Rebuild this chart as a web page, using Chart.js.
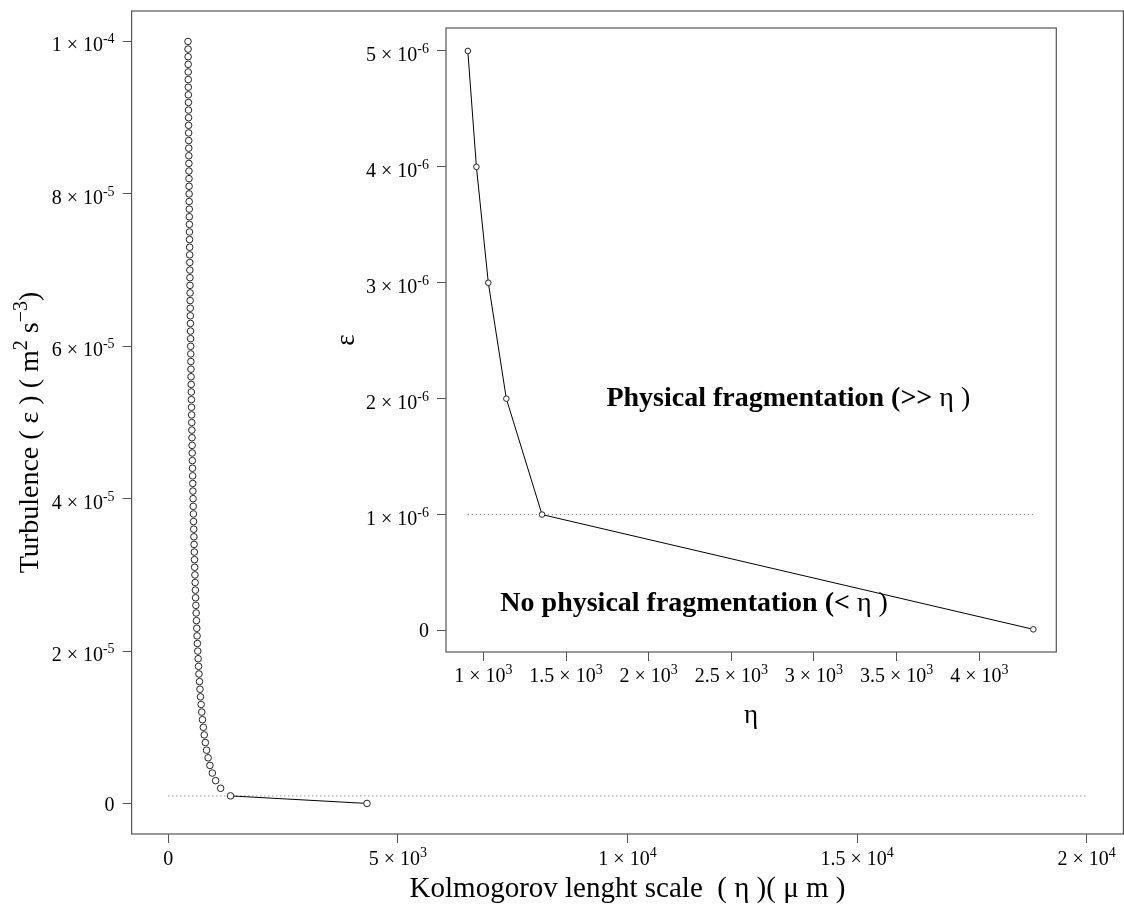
<!DOCTYPE html>
<html>
<head>
<meta charset="utf-8">
<script src="https://cdn.jsdelivr.net/npm/chart.js@4.4.1/dist/chart.umd.min.js"></script>
<style>
  body { margin: 0; background: #fff; }
  #wrap { position: relative; width: 1124px; height: 918px; }
  #main { position: absolute; left: 0; top: 0; }
  #inset { position: absolute; left: 330px; top: 0; }
</style>
</head>
<body>
<div id="wrap">
  <canvas id="main" width="1124" height="918"></canvas>
  <canvas id="inset" width="760" height="745"></canvas>
</div>
<script>
/* ---------- data ---------- */
// Kolmogorov length (um), first point is the ~0 dissipation one
const etaValues = [4327,
  1355, 1139, 1030, 958, 906, 866, 833, 806, 782, 762,
  744, 728, 714, 700, 689, 678, 667, 658, 649, 641,
  633, 626, 619, 612, 606, 600, 594, 589, 584, 579,
  574, 570, 565, 561, 557, 553, 549, 546, 542, 539,
  535, 532, 529, 526, 523, 520, 518, 515, 512, 510,
  507, 505, 502, 500, 498, 495, 493, 491, 489, 487,
  485, 483, 481, 479, 477, 475, 474, 472, 470, 468,
  467, 465, 464, 462, 460, 459, 457, 456, 454, 453,
  452, 450, 449, 448, 446, 445, 444, 442, 441, 440,
  439, 438, 436, 435, 434, 433, 432, 431, 430, 428];
// turbulence epsilon (m2 s-3)
const epsValues = [1e-8,
  1e-6, 2e-6, 3e-6, 4e-6, 5e-6, 6e-6, 7e-6, 8e-6, 9e-6, 10e-6,
  11e-6, 12e-6, 13e-6, 14e-6, 15e-6, 16e-6, 17e-6, 18e-6, 19e-6, 20e-6,
  21e-6, 22e-6, 23e-6, 24e-6, 25e-6, 26e-6, 27e-6, 28e-6, 29e-6, 30e-6,
  31e-6, 32e-6, 33e-6, 34e-6, 35e-6, 36e-6, 37e-6, 38e-6, 39e-6, 40e-6,
  41e-6, 42e-6, 43e-6, 44e-6, 45e-6, 46e-6, 47e-6, 48e-6, 49e-6, 50e-6,
  51e-6, 52e-6, 53e-6, 54e-6, 55e-6, 56e-6, 57e-6, 58e-6, 59e-6, 60e-6,
  61e-6, 62e-6, 63e-6, 64e-6, 65e-6, 66e-6, 67e-6, 68e-6, 69e-6, 70e-6,
  71e-6, 72e-6, 73e-6, 74e-6, 75e-6, 76e-6, 77e-6, 78e-6, 79e-6, 80e-6,
  81e-6, 82e-6, 83e-6, 84e-6, 85e-6, 86e-6, 87e-6, 88e-6, 89e-6, 90e-6,
  91e-6, 92e-6, 93e-6, 94e-6, 95e-6, 96e-6, 97e-6, 98e-6, 99e-6, 1e-4];
// threshold line at 1e-6
const mainCutEta = [0, 20000];
const insetCutEta = [906, 4327];
const cutEps = [1e-6, 1e-6];
// inset shows the first six points
const insetCount = 6;

// ticks ("^" marks the exponent)
const mainXTicks = [0, 5000, 10000, 15000, 20000];
const mainXLabels = ['0', '5 × 10^3', '1 × 10^4', '1.5 × 10^4', '2 × 10^4'];
const mainYTicks = [0, 2e-5, 4e-5, 6e-5, 8e-5, 1e-4];
const mainYLabels = ['0', '2 × 10^-5', '4 × 10^-5', '6 × 10^-5', '8 × 10^-5', '1 × 10^-4'];
const insetXTicks = [1000, 1500, 2000, 2500, 3000, 3500, 4000];
const insetXLabels = ['1 × 10^3', '1.5 × 10^3', '2 × 10^3', '2.5 × 10^3', '3 × 10^3', '3.5 × 10^3', '4 × 10^3'];
const insetYTicks = [0, 1e-6, 2e-6, 3e-6, 4e-6, 5e-6];
const insetYLabels = ['0', '1 × 10^-6', '2 × 10^-6', '3 × 10^-6', '4 × 10^-6', '5 × 10^-6'];

/* ---------- helpers ---------- */
const SERIF = "'Liberation Serif', 'Times New Roman', serif";
const AXIS_GREY = '#555';

function pts(xs, ys) {
    return xs.map((x, i) => ({ x: x, y: ys[i] }));
}

// R-like axis: fixed ticks, outside tick marks, labels drawn by sciPlugin
function makeAxis(o) {
    return {
        type: 'linear',
        position: o.pos,
        min: o.min,
        max: o.max,
        afterBuildTicks: s => { s.ticks = o.ticks.map(v => ({ value: v })); },
        afterFit: s => {
            if (o.pos === 'bottom') s.height = o.size; else s.width = o.size;
            s.paddingTop = s.paddingBottom = s.paddingLeft = s.paddingRight = 0;
        },
        ticks: { display: false },
        grid: { drawOnChartArea: false, drawTicks: true, tickLength: 9, tickColor: AXIS_GREY, tickWidth: 1 },
        border: { display: false },
        title: {
            display: !!o.title,
            text: o.title || '',
            font: { family: SERIF, size: o.titleSize || 27 },
            color: '#000',
            padding: o.titlePad
        }
    };
}

// text pieces [text, size, raise] laid out left to right
function drawRuns(ctx, runs, x, y, align) {
    let total = 0;
    runs.forEach(r => {
        ctx.font = r[1] + 'px ' + SERIF;
        r.w = ctx.measureText(r[0]).width;
        total += r.w;
    });
    let cx = align === 'right' ? x - total : x - total / 2;
    ctx.textAlign = 'left';
    ctx.textBaseline = 'alphabetic';
    runs.forEach(r => {
        ctx.font = r[1] + 'px ' + SERIF;
        ctx.fillText(r[0], cx, y - r[2]);
        cx += r.w;
    });
}

// "2 × 10^-5" -> base + raised exponent
function drawSci(ctx, text, x, y, align) {
    const parts = text.split('^');
    const runs = [[parts[0], 20, 0]];
    if (parts[1]) runs.push([parts[1], 14, 8]);
    drawRuns(ctx, runs, x, y, align);
}

function sciPlugin(xTicks, xLabels, yTicks, yLabels, xDrop) {
    return {
        id: 'sci',
        afterDraw(chart) {
            const ctx = chart.ctx, a = chart.chartArea;
            const sx = chart.scales.x, sy = chart.scales.y;
            ctx.save();
            ctx.fillStyle = '#000';
            xTicks.forEach((v, i) => drawSci(ctx, xLabels[i], sx.getPixelForValue(v), a.bottom + xDrop, 'center'));
            yTicks.forEach((v, i) => {
                const lab = yLabels[i];
                drawSci(ctx, lab, a.left - 17, sy.getPixelForValue(v) + (lab.includes('^') ? 10 : 7), 'right');
            });
            ctx.restore();
        }
    };
}

// rotated y title with superscripts
const yTitlePlugin = {
    id: 'ytitle',
    afterDraw(chart) {
        const ctx = chart.ctx, a = chart.chartArea;
        ctx.save();
        ctx.fillStyle = '#000';
        ctx.translate(29, (a.top + a.bottom) / 2 + 10);
        ctx.rotate(-Math.PI / 2);
        drawRuns(ctx, [
            ['Turbulence ( ε ) ( m', 28, 0],
            ['2', 20, 11],
            [' s', 28, 0],
            ['−3', 20, 11],
            [')', 28, 0]
        ], 0, 9, 'center');
        ctx.restore();
    }
};

// box around plot region
const boxPlugin = {
    id: 'box',
    afterDraw(chart) {
        const a = chart.chartArea, ctx = chart.ctx;
        ctx.save();
        ctx.strokeStyle = AXIS_GREY;
        ctx.lineWidth = 1.2;
        ctx.strokeRect(a.left, a.top, a.right - a.left, a.bottom - a.top);
        ctx.restore();
    }
};

// short segments hidden, like R type="b" gaps between close points
const gapColor = ctx => {
    const d = Math.hypot(ctx.p1.x - ctx.p0.x, ctx.p1.y - ctx.p0.y);
    return d > 16 ? '#000' : 'rgba(0,0,0,0)';
};

/* ---------- main chart ---------- */
new Chart(document.getElementById('main'), {
    type: 'line',
    data: {
        datasets: [
            {
                data: pts(etaValues, epsValues),
                borderColor: '#000',
                borderWidth: 1,
                segment: { borderColor: gapColor },
                pointRadius: 3.3,
                pointBorderWidth: 1,
                pointBorderColor: '#222',
                pointBackgroundColor: '#fff',
                tension: 0
            },
            {
                data: pts(mainCutEta, cutEps),
                borderColor: '#666',
                borderWidth: 1,
                borderDash: [1, 3],
                pointRadius: 0
            }
        ]
    },
    options: {
        responsive: false,
        animation: false,
        devicePixelRatio: 1,
        layout: { autoPadding: false, padding: { top: 11, right: 0.6, bottom: 0, left: 0 } },
        plugins: { legend: { display: false }, tooltip: { enabled: false } },
        scales: {
            x: makeAxis({ pos: 'bottom', min: -800, max: 20800, ticks: mainXTicks,
                size: 84, title: 'Kolmogorov lenght scale  ( η )( μ m )', titleSize: 29,
                titlePad: { top: 0, bottom: 11.4 } }),
            y: makeAxis({ pos: 'left', min: -4e-6, max: 1.04e-4, ticks: mainYTicks,
                size: 131.6, title: '' })
        }
    },
    plugins: [boxPlugin, yTitlePlugin, sciPlugin(mainXTicks, mainXLabels, mainYTicks, mainYLabels, 31)]
});

/* ---------- inset chart ---------- */
const notesPlugin = {
    id: 'notes',
    afterDatasetsDraw(chart) {
        const ctx = chart.ctx, sx = chart.scales.x, sy = chart.scales.y;
        const notes = [
            { x: 2845, y: 2.0e-6, bold: 'Physical fragmentation (>>', plain: ' η )' },
            { x: 2275, y: 0.23e-6, bold: 'No physical fragmentation (<', plain: ' η )' }
        ];
        ctx.save();
        ctx.fillStyle = '#000';
        ctx.textBaseline = 'middle';
        ctx.textAlign = 'left';
        notes.forEach(n => {
            ctx.font = 'bold 28px ' + SERIF;
            const wb = ctx.measureText(n.bold).width;
            ctx.font = '28px ' + SERIF;
            const wp = ctx.measureText(n.plain).width;
            const x0 = sx.getPixelForValue(n.x) - (wb + wp) / 2;
            const y0 = sy.getPixelForValue(n.y);
            ctx.font = 'bold 28px ' + SERIF;
            ctx.fillText(n.bold, x0, y0);
            ctx.font = '28px ' + SERIF;
            ctx.fillText(n.plain, x0 + wb, y0);
        });
        ctx.restore();
    }
};

new Chart(document.getElementById('inset'), {
    type: 'line',
    data: {
        datasets: [
            {
                data: pts(etaValues.slice(0, insetCount), epsValues.slice(0, insetCount)),
                borderColor: '#000',
                borderWidth: 1,
                pointRadius: 2.8,
                pointBorderWidth: 1,
                pointBorderColor: '#222',
                pointBackgroundColor: '#fff',
                tension: 0
            },
            {
                data: pts(insetCutEta, cutEps),
                borderColor: '#666',
                borderWidth: 1,
                borderDash: [1, 3],
                pointRadius: 0
            }
        ]
    },
    options: {
        responsive: false,
        animation: false,
        devicePixelRatio: 1,
        layout: { autoPadding: false, padding: { top: 28, right: 33.7, bottom: 0, left: 0 } },
        plugins: { legend: { display: false }, tooltip: { enabled: false } },
        scales: {
            x: makeAxis({ pos: 'bottom', min: 774, max: 4466, ticks: insetXTicks,
                size: 93, title: 'η', titlePad: { top: 0, bottom: 13 } }),
            y: makeAxis({ pos: 'left', min: -0.1855e-6, max: 5.198e-6, ticks: insetYTicks,
                size: 116, title: 'ε', titlePad: { top: 1, bottom: 0 } })
        }
    },
    plugins: [boxPlugin, notesPlugin, sciPlugin(insetXTicks, insetXLabels, insetYTicks, insetYLabels, 29.5)]
});
</script>
</body>
</html>
